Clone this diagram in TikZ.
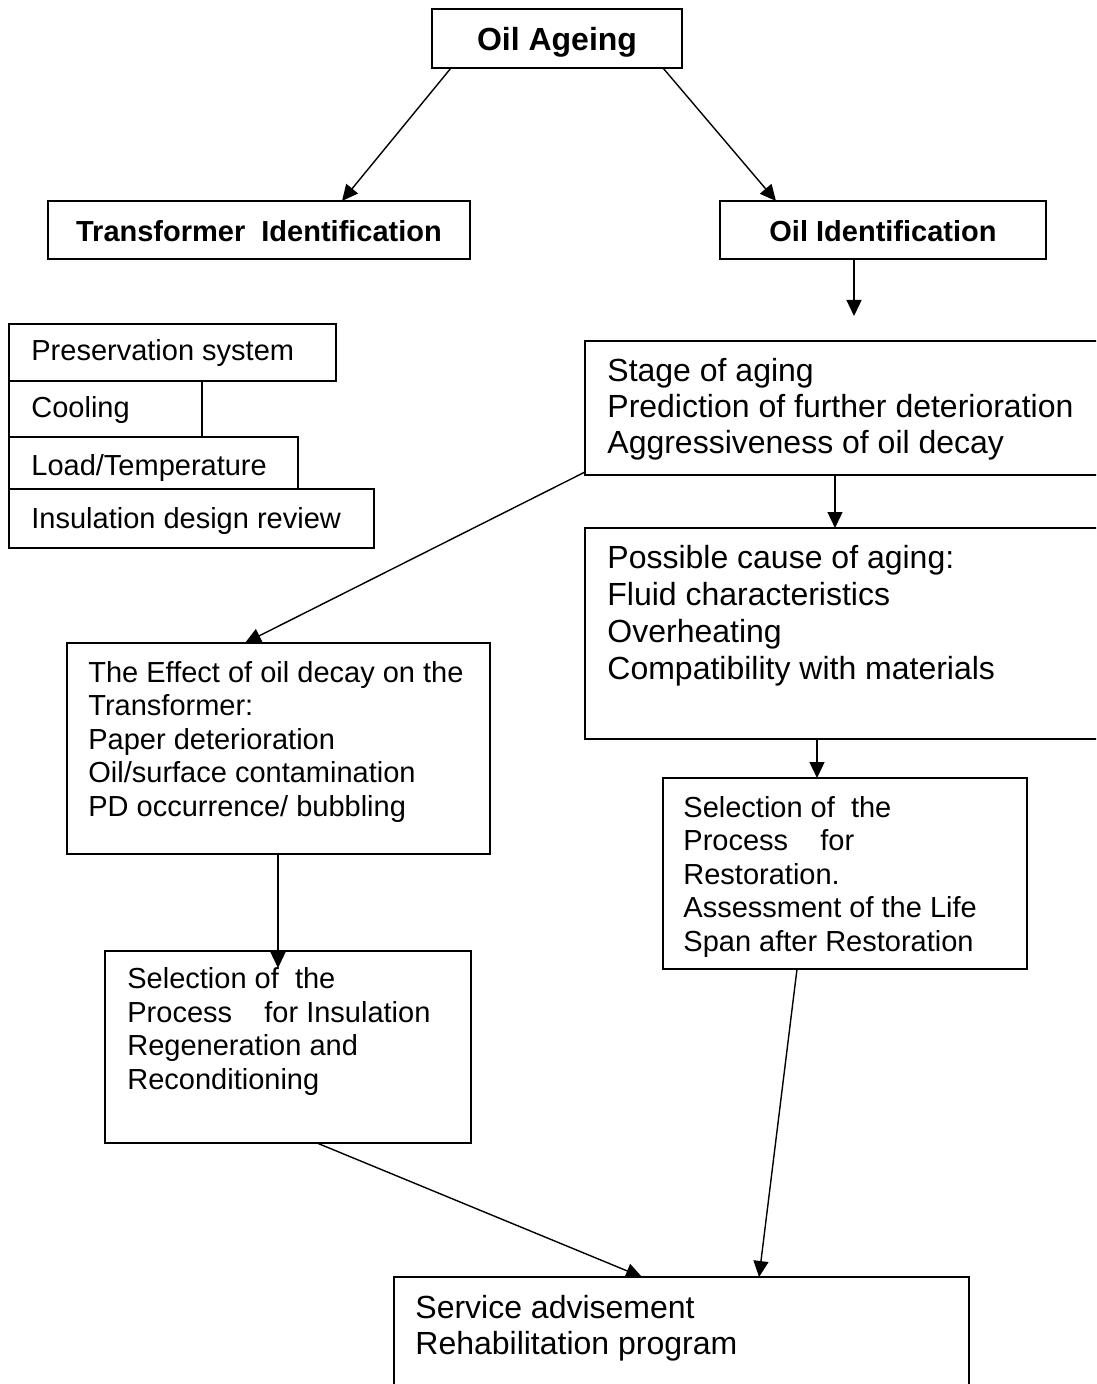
\documentclass[tikz,border=0pt]{standalone}
\usepackage{fontspec}
\setmainfont{Liberation Sans}
\usetikzlibrary{arrows.meta}
\newcommand\mkbox[5]{\node[box, minimum width={(#4-#2)*0.5pt}, minimum height={(#5-#3)*0.5pt}] (#1) at (#2,#3) {};}
\begin{document}
\begin{tikzpicture}[x=0.5pt,y=-0.5pt,
  box/.style={draw, line width=1pt, inner sep=0pt, outer sep=0pt, anchor=north west},
  txtA/.style={inner sep=0pt, anchor=base west, align=left, font=\fontsize{16}{18}\selectfont},
  txtC/.style={inner sep=0pt, anchor=base west, align=left, font=\fontsize{16}{18.35}\selectfont},
  txtB/.style={inner sep=0pt, anchor=base west, align=left, font=\fontsize{14.5}{16.7}\selectfont},
  headA/.style={inner sep=0pt, anchor=base, font=\bfseries\fontsize{16}{18}\selectfont},
  headB/.style={inner sep=0pt, anchor=base, font=\bfseries\fontsize{14.5}{16.75}\selectfont},
  conn/.style={line width=0.7pt, -{Triangle[length=8pt,width=7.5pt]}}]
\useasboundingbox (0,0) rectangle (1096,1384);
\clip (0,0) rectangle (1096,1384);
% boxes
\mkbox{ageing}{432}{9}{682}{68}
\mkbox{trans}{48}{201}{470}{259}
\mkbox{oilid}{720}{201}{1046}{259}
\mkbox{pres}{9}{324}{336}{381}
\mkbox{cool}{9}{381}{202}{437}
\mkbox{load}{9}{437}{298}{489}
\mkbox{insd}{9}{489}{374}{548}
\mkbox{stage}{585}{341}{1110}{475}
\mkbox{cause}{585}{528}{1110}{739}
\mkbox{effect}{67}{643}{490}{854}
\mkbox{selr}{663}{778}{1027}{969}
\mkbox{seli}{105}{951}{471}{1143}
\mkbox{serv}{394}{1277}{969}{1420}
% texts (multi-line nodes are anchored at the baseline of their last line)
\node[headA] (tageing) at (557,51) {Oil Ageing};
\node[headB] (ttrans) at (259,242) {Transformer\ \ Identification};
\node[headB] (toilid) at (883,242) {Oil Identification};
\node[txtB] (tpres) at (31,361) {Preservation system};
\node[txtB] (tcool) at (31,418) {Cooling};
\node[txtB] (tload) at (31,476) {Load/Temperature};
\node[txtB] (tinsd) at (31,528) {Insulation design review};
\node[txtA] (tstage) at (607,454) {Stage of aging\\Prediction of further deterioration\\Aggressiveness of oil decay};
\node[txtC] (tcause) at (607,679) {Possible cause of aging:\\Fluid characteristics\\Overheating\\Compatibility with materials};
\node[txtB] (teffect) at (88,816) {The Effect of oil decay on the\\Transformer:\\Paper deterioration\\Oil/surface contamination\\PD occurrence/ bubbling};
\node[txtB] (tselr) at (683,951) {Selection of\ \ the\\Process\ \ \ \ for\\Restoration.\\Assessment of the Life\\Span after Restoration};
\node[txtB] (tseli) at (127,1089) {Selection of\ \ the\\Process\ \ \ \ for Insulation\\Regeneration and\\Reconditioning};
\node[txtA] (tserv) at (415,1354) {Service advisement\\Rehabilitation program};
% connectors
\coordinate (oilidend) at (854,316);
\draw[conn] ([xshift=9.5pt]ageing.south west) -- ([xshift=147pt]trans.north west);
\draw[conn] ([xshift=-9.5pt]ageing.south east) -- ([xshift=28pt]oilid.north west);
\draw[conn] ([xshift=-14.5pt]oilid.south) -- (oilidend);
\draw[conn] ([xshift=125pt]stage.south west) -- ([xshift=125pt]cause.north west);
\draw[conn] ([yshift=1.5pt]stage.south west) -- ([xshift=89pt]effect.north west);
\draw[conn] ([xshift=116pt]cause.south west) -- ([xshift=77pt]selr.north west);
\draw[conn] ([xshift=105.5pt]effect.south west) -- ([xshift=86.5pt,yshift=-8.5pt]seli.north west);
\draw[conn] ([xshift=106pt]seli.south west) -- ([xshift=124pt]serv.north west);
\draw[conn] ([xshift=67pt]selr.south west) -- ([xshift=182.5pt]serv.north west);
\end{tikzpicture}
\end{document}
